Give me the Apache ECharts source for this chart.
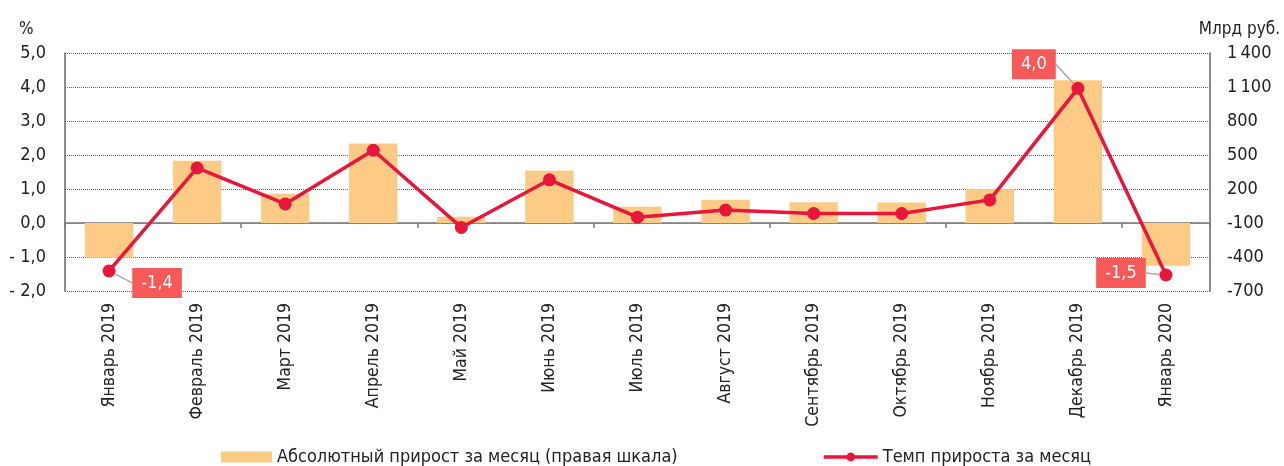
<!DOCTYPE html>
<html lang="ru">
<head>
    <meta charset="UTF-8">
    <title>Прирост за месяц</title>
    <script src="https://cdn.jsdelivr.net/npm/echarts@6/dist/echarts.min.js"></script>
    <style>
        html, body { margin: 0; padding: 0; background: #fff; }
        #chart { width: 1284px; height: 466px; }
    </style>
</head>
<body>
<div id="chart"></div>
<script>
    var months = ['Январь 2019', 'Февраль 2019', 'Март 2019', 'Апрель 2019', 'Май 2019', 'Июнь 2019',
        'Июль 2019', 'Август 2019', 'Сентябрь 2019', 'Октябрь 2019', 'Ноябрь 2019', 'Декабрь 2019', 'Январь 2020'];
    // абсолютный прирост, млрд руб. (правая шкала)
    var absGrowth = [-405, 450, 157, 602, -44, 362, 44, 106, 83, 80, 197, 1160, -478];
    // темп прироста, %
    var growthRate = [-1.41, 1.62, 0.56, 2.14, -0.13, 1.27, 0.17, 0.38, 0.28, 0.28, 0.68, 3.96, -1.53];
    // столбцы растут от линии пересечения осей (-100 на правой шкале)
    var barBase = -100;
    var labeled = [0, 11, 12];

    var FONT = '"Liberation Sans Narrow", "DejaVu Sans Condensed", "Roboto", sans-serif';
    var BAR_COLOR = '#fecb87';
    var LINE_COLOR = '#e8163b';

    function pct(v) {
        var s = Math.abs(v).toFixed(1).replace('.', ',');
        return v < 0 ? '- ' + s : s;
    }
    function rub(v) {
        var s = String(Math.abs(v));
        if (s.length > 3) s = s.slice(0, s.length - 3) + '\u2009' + s.slice(s.length - 3);
        return (v < 0 ? '-' : '') + s;
    }

    var myChart = echarts.init(document.getElementById('chart'));

    // сдвиги подписей относительно точки
    var labelShift = { 0: [48, 12], 11: [-44, -24], 12: [-45, -2] };

    var lineData = growthRate.map(function (v, i) {
        if (labeled.indexOf(i) < 0) return v;
        return {
            value: v,
            label: {
                show: true,
                position: 'inside',
                formatter: function (p) { return p.value.toFixed(1).replace('.', ','); },
                color: '#fff',
                backgroundColor: '#f75858',
                padding: [7, 9, 5, 9],
                fontSize: 18,
                fontFamily: FONT
            },
            labelLine: { show: true, lineStyle: { color: '#aaa', width: 1.5 } }
        };
    });

    var legendText = { fontFamily: FONT, fontSize: 18, color: '#222' };

    var option = {
        animation: false,
        grid: { left: 65, right: 74, top: 53, bottom: 175 },
        legend: [{
            left: 221, top: 448, padding: 0, itemGap: 6,
            icon: 'rect', itemWidth: 51, itemHeight: 11,
            textStyle: legendText,
            data: ['Абсолютный прирост за месяц (правая шкала)']
        }, {
            left: 822, top: 448, padding: 0,
            itemWidth: 54, itemHeight: 11,
            lineStyle: { width: 3.5 },
            textStyle: legendText,
            data: ['Темп прироста за месяц']
        }],
        xAxis: [{
            type: 'category',
            data: months,
            axisLine: { show: false, onZero: false },
            axisTick: { show: false },
            axisLabel: {
                rotate: 90, margin: 12, interval: 0,
                fontFamily: FONT, fontSize: 17.5, color: '#222'
            }
        }, {
            type: 'category',
            data: months,
            position: 'bottom',
            axisLine: { onZero: true, lineStyle: { color: '#777', width: 1.5 } },
            axisTick: { show: true, length: 5, lineStyle: { color: '#777', width: 1.5 } },
            axisLabel: { show: false }
        }],
        yAxis: [{
            type: 'value',
            min: -2, max: 5, interval: 1,
            name: '%',
            nameGap: 15,
            nameTextStyle: { fontFamily: FONT, fontSize: 17, color: '#222', align: 'left', padding: [0, 0, 0, -46] },
            axisLine: { show: true, lineStyle: { color: '#666', width: 1.5 } },
            axisTick: { show: false },
            axisLabel: { formatter: pct, margin: 19, fontFamily: FONT, fontSize: 18, color: '#222' },
            splitLine: { lineStyle: { color: '#666', type: [1, 1], width: 1 } }
        }, {
            type: 'value',
            min: -700, max: 1400, interval: 300,
            name: 'Млрд руб.',
            nameGap: 15,
            nameTextStyle: { fontFamily: FONT, fontSize: 17, color: '#222', align: 'right', padding: [0, -70, 0, 0] },
            axisLine: { show: true, lineStyle: { color: '#666', width: 1.5 } },
            axisTick: { show: false },
            axisLabel: { formatter: rub, margin: 17, fontFamily: FONT, fontSize: 18, color: '#222' },
            splitLine: { show: false }
        }],
        series: [{
            name: 'Абсолютный прирост за месяц (правая шкала)',
            type: 'custom',
            xAxisIndex: 0,
            yAxisIndex: 1,
            itemStyle: { color: BAR_COLOR },
            encode: { x: 0, y: 1 },
            data: absGrowth.map(function (v, i) { return [i, v]; }),
            renderItem: function (params, api) {
                var i = api.value(0);
                var top = api.coord([i, api.value(1)]);
                var base = api.coord([i, barBase]);
                var w = api.size([1, 0])[0] * 0.55;
                return {
                    type: 'rect',
                    shape: {
                        x: top[0] - w / 2,
                        y: Math.min(top[1], base[1]),
                        width: w,
                        height: Math.abs(base[1] - top[1])
                    },
                    style: { fill: BAR_COLOR }
                };
            },
            z: 1
        }, {
            name: 'Темп прироста за месяц',
            type: 'line',
            xAxisIndex: 0,
            yAxisIndex: 0,
            data: lineData,
            symbol: 'circle',
            symbolSize: 13,
            lineStyle: { color: LINE_COLOR, width: 3.5 },
            itemStyle: { color: LINE_COLOR },
            labelLayout: function (params) {
                var s = labelShift[params.dataIndex];
                return s ? { dx: s[0], dy: s[1] } : {};
            },
            z: 3
        }]
    };

    myChart.setOption(option);
</script>
</body>
</html>
